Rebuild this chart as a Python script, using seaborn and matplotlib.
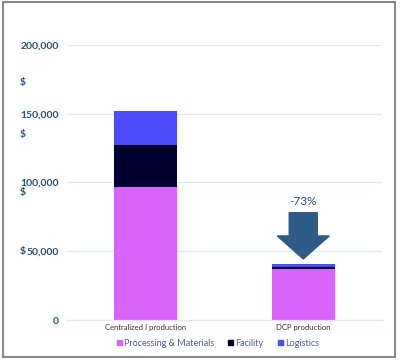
import matplotlib
matplotlib.use('Agg')
import matplotlib.pyplot as plt
import matplotlib.patches as mpatches
import pandas as pd
import seaborn as sns

# data
scenarios = ['Centralized I production', 'DCP production']
processing = [97000, 37000]
facility = [30000, 1500]
logistics = [25000, 2000]
components = ['Processing & Materials', 'Facility', 'Logistics']
colors = ['#d864fb', '#00002e', '#4b4bfb']
ytick_vals = [0, 50000, 100000, 150000, 200000]
ytick_labels = ['0', '50,000', '100,000', '150,000', '200,000']
dollar_y = [50000, 93000, 134500, 172500]   # the wrapped "$" of each label

sns.set_style('white')
plt.rcParams['font.family'] = ['Lato', 'DejaVu Sans']

df = pd.DataFrame({'scenario': scenarios, 'Processing & Materials': processing,
                   'Facility': facility, 'Logistics': logistics})
df['cum1'] = df['Processing & Materials']
df['cum2'] = df['cum1'] + df['Facility']
df['cum3'] = df['cum2'] + df['Logistics']

fig = plt.figure(figsize=(4, 3.62), dpi=100)
ax = fig.add_axes([0.1675, 0.116, 0.7875, 0.76])

# stacked bars: draw the cumulative totals, tallest first
for col, color in zip(['cum3', 'cum2', 'cum1'], colors[::-1]):
    sns.barplot(data=df, x='scenario', y=col, color=color, width=0.4,
                saturation=1, linewidth=0, edgecolor=color, ax=ax, zorder=2)

ax.set_xlim(-0.5, 1.5)
ax.set_ylim(0, 200000)
ax.set_yticks(ytick_vals)
ax.set_yticklabels(ytick_labels)
ax.set_xlabel('')
ax.set_ylabel('')
ax.yaxis.grid(True, color='#dfe7ef', linewidth=0.9, zorder=0)
ax.tick_params(axis='y', length=0, pad=6, labelsize=7.5, labelcolor='#24507d')
ax.tick_params(axis='x', length=0, pad=3, labelsize=5.5, labelcolor='#333333')
for lab in ax.get_yticklabels():
    lab.set_fontweight('bold')
for side in ['top', 'right', 'left']:
    ax.spines[side].set_visible(False)
ax.spines['bottom'].set_color('#dfe7ef')
ax.spines['bottom'].set_linewidth(0.9)

for yv in dollar_y:
    ax.text(-0.149, yv, '$', transform=ax.get_yaxis_transform(), ha='left',
            va='center', fontsize=7.5, fontweight='bold', color='#24507d')

# change arrow over the DCP bar
totals = df['cum3'].tolist()
change = (totals[1] - totals[0]) / totals[0] * 100
arrow = mpatches.FancyArrow(1.0, 78000, 0, -33600, width=0.178, head_width=0.33,
                            head_length=16700, length_includes_head=True,
                            color='#2c5b86', zorder=3)
ax.add_patch(arrow)
ax.text(1.0, 86000, f'{change:.0f}%', ha='center', va='center', fontsize=8.5,
        color='#2c4d6e')

handles = [mpatches.Patch(color=c, label=l) for c, l in zip(colors, components)]
fig.legend(handles=handles, loc='center', bbox_to_anchor=(0.545, 0.052), ncol=3,
           frameon=False, fontsize=6.5, handlelength=0.55, handleheight=0.55,
           handletextpad=0.25, columnspacing=1.6, labelcolor='#4f5c9c')

fig.patches.append(mpatches.Rectangle((0.0075, 0.0138), 0.98, 0.9807,
                                      transform=fig.transFigure, fill=False,
                                      edgecolor='#8a8a8a', linewidth=1.5))

fig.savefig('out.png', dpi=100)
plt.close(fig)
